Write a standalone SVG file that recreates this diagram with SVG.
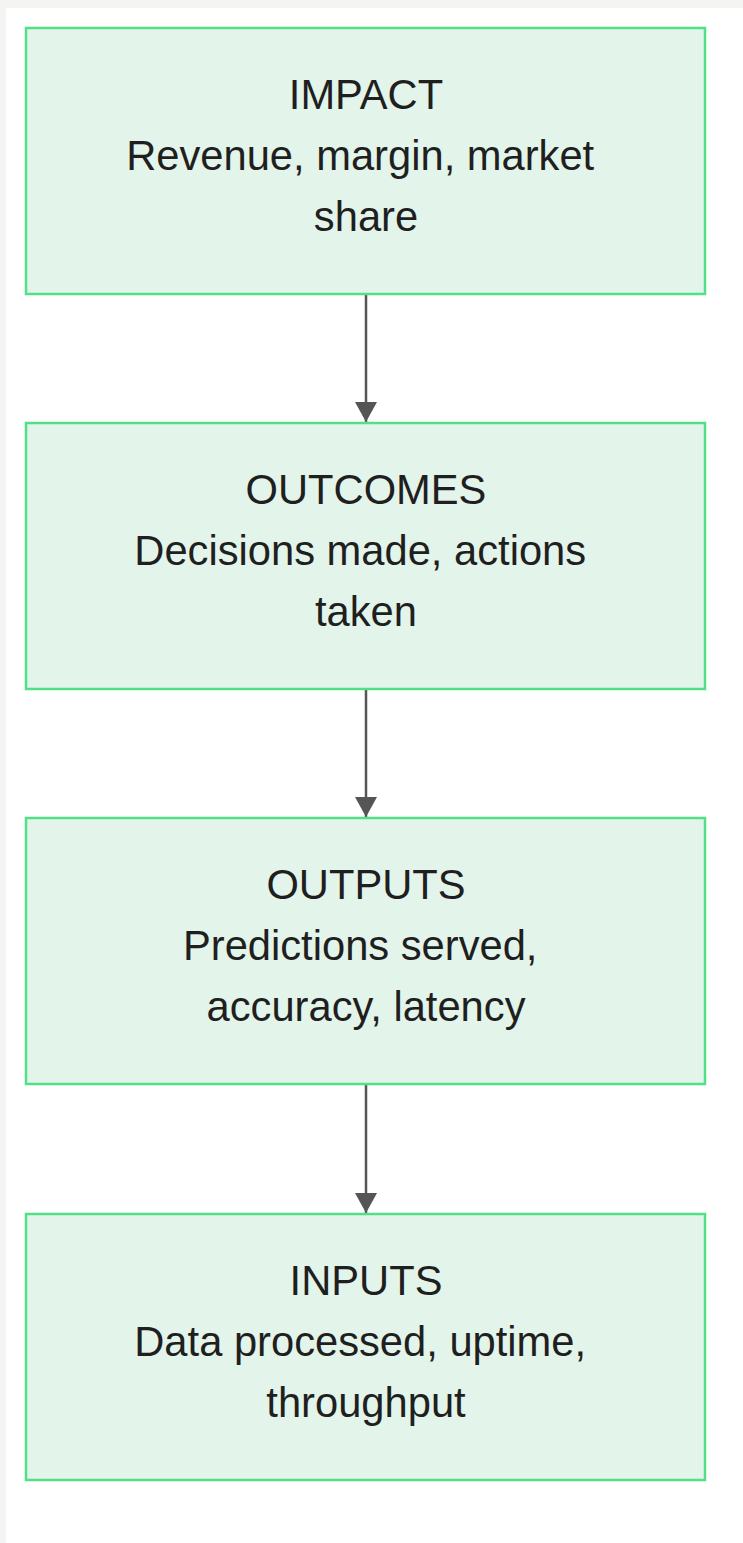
<svg xmlns="http://www.w3.org/2000/svg" width="743" height="1543" viewBox="0 0 743 1543">
  <defs>
    <marker id="arrow" markerWidth="22" markerHeight="20" refX="11" refY="20" orient="0" markerUnits="userSpaceOnUse">
      <path d="M0,0 L22,0 L11,20 Z" fill="#555555"/>
    </marker>
    <style>
      .node rect { fill: #e3f4ea; stroke: #52e087; stroke-width: 2.5; }
      .node text { font-family: "Liberation Sans", Arial, sans-serif; font-size: 41.7px; fill: #1f1f1f; text-anchor: middle; }
      .edge { stroke: #555555; stroke-width: 2.5; fill: none; }
    </style>
  </defs>

  <!-- page background -->
  <rect x="0" y="0" width="743" height="1543" fill="#f4f4f2"/>
  <rect x="6" y="8" width="737" height="1535" fill="#ffffff"/>

  <g id="connectors">
    <line class="edge" x1="366" y1="295" x2="366" y2="422" marker-end="url(#arrow)"/>
    <line class="edge" x1="366" y1="690" x2="366" y2="817" marker-end="url(#arrow)"/>
    <line class="edge" x1="366" y1="1085" x2="366" y2="1213" marker-end="url(#arrow)"/>
  </g>

  <!-- wrapped lines keep their trailing space, so they sit half a space left of centre -->
  <g id="impact" class="node">
    <rect x="26" y="28" width="679" height="266"/>
    <text x="366" y="109">IMPACT</text>
    <text x="360.2" y="170">Revenue, margin, market</text>
    <text x="366" y="231">share</text>
  </g>

  <g id="outcomes" class="node">
    <rect x="26" y="423" width="679" height="266"/>
    <text x="366" y="504">OUTCOMES</text>
    <text x="360.2" y="565">Decisions made, actions</text>
    <text x="366" y="626">taken</text>
  </g>

  <g id="outputs" class="node">
    <rect x="26" y="818" width="679" height="266"/>
    <text x="366" y="899">OUTPUTS</text>
    <text x="360.2" y="960">Predictions served,</text>
    <text x="366" y="1021">accuracy, latency</text>
  </g>

  <g id="inputs" class="node">
    <rect x="26" y="1214" width="679" height="266"/>
    <text x="366" y="1295">INPUTS</text>
    <text x="360.2" y="1356">Data processed, uptime,</text>
    <text x="366" y="1417">throughput</text>
  </g>
</svg>
